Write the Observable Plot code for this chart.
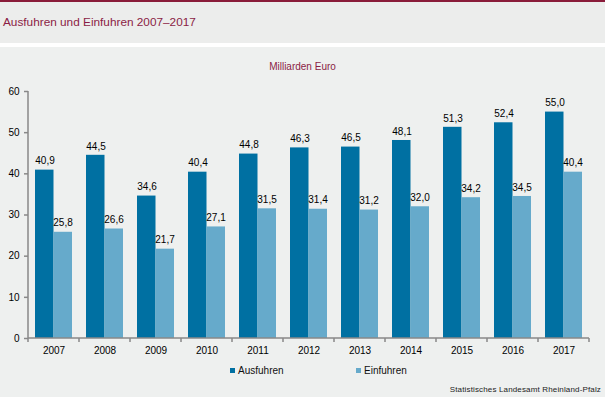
<!DOCTYPE html>
<html>
<head>
<meta charset="utf-8">
<script src="https://cdn.jsdelivr.net/npm/d3@7"></script>
<script src="https://cdn.jsdelivr.net/npm/@observablehq/plot@0.6"></script>
<style>
  body { margin:0; width:605px; height:397px; background:#eef0ef; position:relative; overflow:hidden; font-family:"Liberation Sans", Arial, sans-serif; }
  .abs { position:absolute; }
  #topline { left:0; top:0; width:605px; height:2px; background:#8a1c3a; }
  #head { left:0; top:2px; width:605px; height:41px; background:#ecedec; }
  #gap { left:0; top:43px; width:605px; height:4px; background:#ffffff; }
  #title { left:3px; top:15px; font-size:11.8px; color:#8b1d45; white-space:nowrap; }
  #sub { left:0; width:605px; top:61px; text-align:center; font-size:10px; color:#8b1d45; padding-left:0; }
  #chart { left:0; top:47px; }
  .leg { top:365px; font-size:10px; color:#111; white-space:nowrap; }
  .sw { display:inline-block; width:5px; height:5px; margin-right:3px; vertical-align:1px; }
  #foot { right:4px; top:385px; font-size:8px; letter-spacing:0.15px; color:#222; white-space:nowrap; }
</style>
</head>
<body>
<div class="abs" id="topline"></div>
<div class="abs" id="head"></div>
<div class="abs" id="gap"></div>
<div class="abs" id="title">Ausfuhren und Einfuhren 2007–2017</div>
<div class="abs" id="sub">Milliarden Euro</div>
<div class="abs" id="chart"></div>
<div class="abs leg" style="left:230px"><span class="sw" style="background:#0070a2"></span>Ausfuhren</div>
<div class="abs leg" style="left:356px"><span class="sw" style="background:#66aacb"></span>Einfuhren</div>
<div class="abs" id="foot">Statistisches Landesamt Rheinland-Pfalz</div>
<script>
const years = ["2007","2008","2009","2010","2011","2012","2013","2014","2015","2016","2017"];
const ausfuhren = [40.9, 44.5, 34.6, 40.4, 44.8, 46.3, 46.5, 48.1, 51.3, 52.4, 55.0];
const einfuhren = [25.8, 26.6, 21.7, 27.1, 31.5, 31.4, 31.2, 32.0, 34.2, 34.5, 40.4];
const yTicks = [0, 10, 20, 30, 40, 50, 60];
const colAus = "#0070a2";
const colEin = "#66aacb";

const aus = years.map((y, i) => ({year: y, value: ausfuhren[i]}));
const ein = years.map((y, i) => ({year: y, value: einfuhren[i]}));
const fmt = v => v.toFixed(1).replace(".", ",");

const W = 605, H = 310, mL = 28, mR = 16, mT = 44, mB = 19;

// axis lines + category boundary ticks
function axisFrame(index, scales, values, dim) {
  const g = d3.create("svg:g").attr("stroke", "#888").attr("fill", "none");
  const x = scales.x, y = scales.y;
  const y0 = y(0), yTop = y(60);
  const left = dim.marginLeft, right = dim.width - dim.marginRight;
  g.append("line").attr("x1", left).attr("x2", left).attr("y1", yTop).attr("y2", y0).attr("stroke-width", 1.5);
  g.append("line").attr("x1", left).attr("x2", right).attr("y1", y0).attr("y2", y0).attr("stroke-width", 1.5);
  const bounds = years.map(d => x(d)).concat([right]);
  for (const b of bounds) {
    g.append("line").attr("x1", b).attr("x2", b).attr("y1", y0).attr("y2", y0 + 4).attr("stroke-width", 1.5);
  }
  return g.node();
}

const plot = Plot.plot({
  width: W, height: H,
  marginLeft: mL, marginRight: mR, marginTop: mT, marginBottom: mB,
  style: {background: "transparent", fontFamily: "'Liberation Sans', Arial, sans-serif", fontSize: "10px", color: "#000"},
  x: {domain: years, padding: 0, label: null},
  y: {domain: [0, 60], label: null},
  marks: [
    Plot.barY(aus, {x: "year", y: "value", fill: colAus, insetLeft: 7, insetRight: 25.5}),
    Plot.barY(ein, {x: "year", y: "value", fill: colEin, insetLeft: 25.5, insetRight: 7}),
    Plot.text(aus, {x: "year", y: "value", text: d => fmt(d.value), dx: -9, dy: -9, fill: "#000", fontSize: 10}),
    Plot.text(ein, {x: "year", y: "value", text: d => fmt(d.value), dx: 9, dy: -9, fill: "#000", fontSize: 10}),
    Plot.axisY(yTicks, {tickSize: 4, tickPadding: 5, stroke: "#888", fill: "#000", strokeWidth: 1.5, fontSize: 10}),
    Plot.axisX({tickSize: 0, tickPadding: 8, fill: "#000", fontSize: 10}),
    axisFrame
  ]
});
document.getElementById("chart").appendChild(plot);
</script>
</body>
</html>
